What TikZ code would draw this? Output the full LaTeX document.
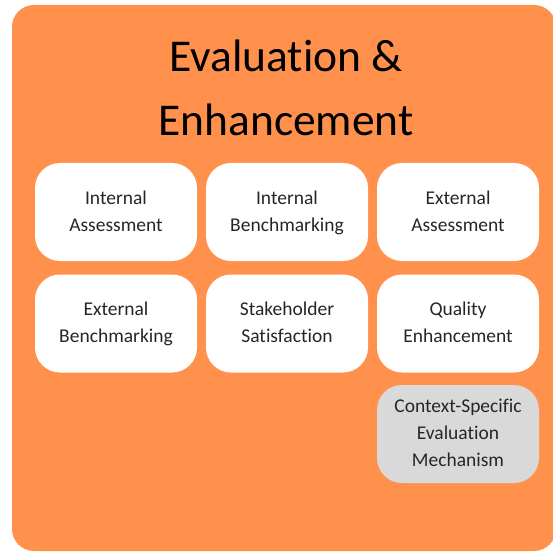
\documentclass[tikz,border=0pt]{standalone}
\usepackage{fontspec}
\setmainfont{Carlito}[Ligatures=NoCommon]
\definecolor{panelorange}{RGB}{255,145,77}
\definecolor{mechgray}{RGB}{217,217,217}
\tikzset{
	item/.style={fill=white, rounded corners=25pt, minimum width=162pt, minimum height=98pt,
		text width=158pt, align=center, font=\fontsize{19.5}{27}\selectfont, text=black!85, inner sep=0pt,
		execute at begin node=\rule{0pt}{20pt}, execute at end node=\strut},
	extra/.style={item, fill=mechgray}
}
\begin{document}
\begin{tikzpicture}[x=1pt,y=-1pt]
	\useasboundingbox (0,0) rectangle (552,553);
	% orange panel
	\fill[panelorange, rounded corners=22pt] (12,5) rectangle (556,551);
	\node[align=center, font=\fontsize{45.5}{64}\selectfont] (title) at (286,88) {Evaluation \&\\Enhancement};
	
	% first row
	\node[item] (intassess) at (116,212) {Internal\\Assessment};
	\node[item] (intbench) at (287,212) {Internal\\Benchmarking};
	\node[item] (extassess) at (458,212) {External\\Assessment};
	
	% second row
	\node[item] (extbench) at (116,323.5) {External\\Benchmarking};
	\node[item] (stake) at (287,323.5) {Stakeholder\\Satisfaction};
	\node[item] (quality) at (458,323.5) {Quality\\Enhancement};
	
	% context mechanism
	\node[extra] (context) at (458,434) {Context-Specific\\Evaluation\\Mechanism};
\end{tikzpicture}
\end{document}
